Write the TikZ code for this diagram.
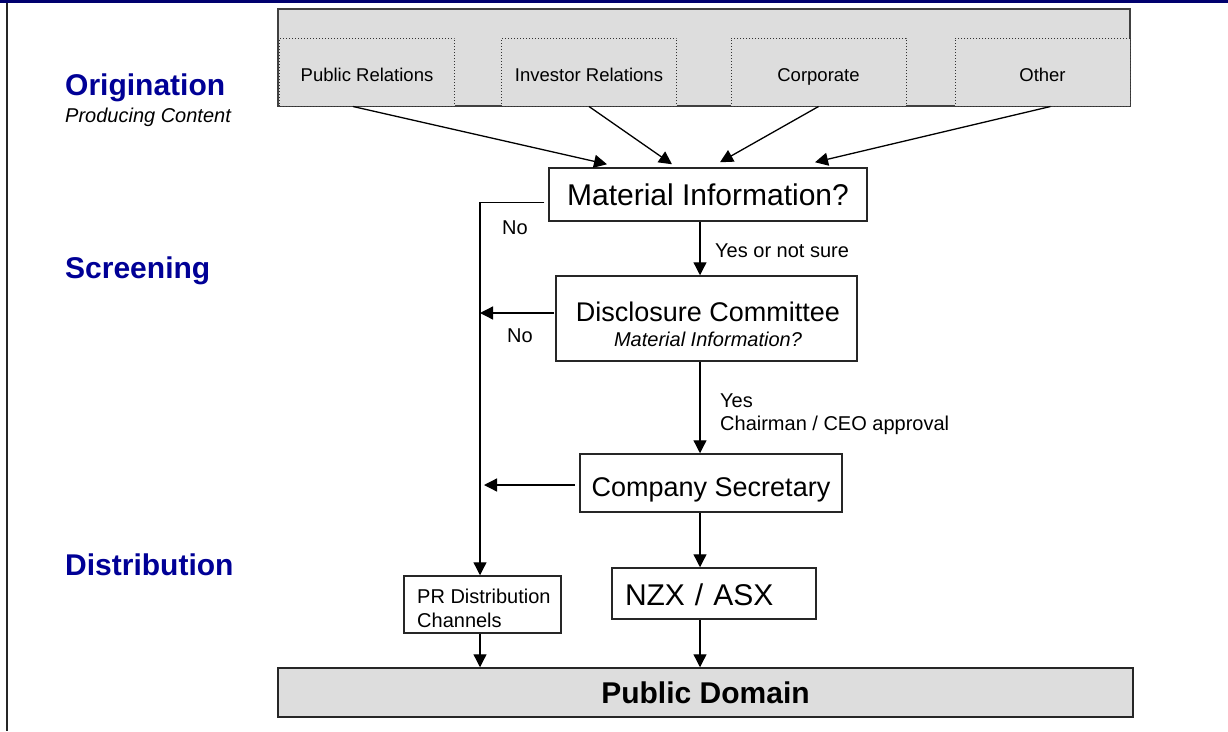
\documentclass[tikz,border=0pt]{standalone}
\usepackage{fontspec}
\setmainfont{Liberation Sans}
\usetikzlibrary{arrows.meta}
\definecolor{barblue}{RGB}{0,0,110}
\definecolor{headblue}{RGB}{0,0,150}
\definecolor{boxgray}{RGB}{221,221,221}

\begin{document}
\begin{tikzpicture}[x=1pt,y=-1pt,
  box/.style={draw=black!85, line width=1.5pt, fill=white, inner sep=0pt},
  src/.style={draw=black!80, dotted, line width=1pt, fill=boxgray, inner sep=0pt, minimum width=175pt, text height=43pt, text depth=25pt, font=\fontsize{18.5}{22}\selectfont},
  arr/.style={line width=1.3pt, -{Triangle[length=13pt,width=13pt]}},
  lbl/.style={inner sep=0pt, anchor=base west, font=\fontsize{20}{24}\selectfont},
  stage/.style={inner sep=0pt, anchor=base west, text=headblue, font=\fontsize{30}{36}\selectfont\bfseries}]

\useasboundingbox(0,0) rectangle (1228,731);
\fill[barblue](0,0) rectangle (1228,3);
\draw[line width=2pt,black!85](7,3)--(7,731);

\node[stage] (origin) at (65,95) {Origination};
\node[lbl, font=\fontsize{20}{24}\selectfont\itshape] (content) at (65,122) {Producing Content};
\node[stage] (screen) at (65,278) {Screening};
\node[stage] (distrib) at (65,575) {Distribution};

\node[draw=black!75, line width=1.5pt, fill=boxgray, inner sep=0pt, minimum width=852pt, minimum height=97pt] (orig) at (704,57.5) {};
\node[src] (pr) at (367,72) {Public Relations};
\node[src] (ir) at (589,72) {Investor Relations};
\node[src] (corp) at (818.5,72) {Corporate};
\node[src] (oth) at (1042.5,72) {Other};

\node[box, minimum width=318pt, text height=37pt, text depth=16pt, font=\fontsize{30}{36}\selectfont] (mat) at (708,194.5) {Material Information?};
\node[box, minimum width=301pt, minimum height=85pt] (dis) at (706.5,318.5) {};
\node[inner sep=0pt, anchor=base, font=\fontsize{27}{32}\selectfont] (distitle) at (708,321) {Disclosure Committee};
\node[inner sep=0pt, anchor=base, font=\fontsize{20}{24}\selectfont\itshape] (dissub) at (708,346) {Material Information?};
\node[box, minimum width=262pt, text height=42pt, text depth=16pt, font=\fontsize{27}{32}\selectfont] (sec) at (711,483) {Company Secretary};
\node[box, text width=178pt, align=left, inner xsep=13pt, text height=37pt, text depth=14pt, font=\fontsize{30}{36}\selectfont] (nzx) at (714,593.5) {NZX / ASX};
\node[box, minimum width=157pt, minimum height=57pt] (prd) at (482.5,604.5) {};
\node[lbl] (prdtop) at (417,603) {PR Distribution};
\node[lbl] (prdbot) at (417,627) {Channels};
\node[box, fill=boxgray, minimum width=855pt, text height=35pt, text depth=14pt, font=\fontsize{30}{36}\selectfont\bfseries] (pub) at (705.5,692.5) {Public Domain};

\coordinate (bus) at (480,203);
\coordinate (spine) at (700,0);
\coordinate (disout) at (554,313);
\coordinate (secout) at (575,485);
\coordinate (secin) at (484,485);

\draw[arr]([xshift=-14pt]pr.south)--([xshift=-101pt,yshift=3pt]mat.north);
\draw[arr](ir.south)--([xshift=-36pt,yshift=3pt]mat.north);
\draw[arr](corp.south)--([xshift=12pt,yshift=5pt]mat.north);
\draw[arr]([xshift=8pt]oth.south)--([xshift=107pt,yshift=5pt]mat.north);

\draw[arr]([xshift=-4pt,yshift=-8pt]mat.west) -| (bus |- prd.north);
\draw[arr](disout)--(disout -| bus);
\draw[arr](secout)--(secin);

\draw[arr](mat.south -| spine)--(dis.north -| spine);
\draw[arr](dis.south -| spine)--(sec.north -| spine);
\draw[arr](sec.south -| spine)--(nzx.north -| spine);
\draw[arr](nzx.south -| spine)--(pub.north -| spine);
\draw[arr](prd.south -| bus)--(pub.north -| bus);

\node[lbl] (no1) at (502,234) {No};
\node[lbl] (no2) at (507,342) {No};
\node[lbl] (yesnot) at (715,257) {Yes or not sure};
\node[lbl] (yes) at (720,407) {Yes};
\node[lbl] (approval) at (720,430) {Chairman / CEO approval};

\end{tikzpicture}
\end{document}
